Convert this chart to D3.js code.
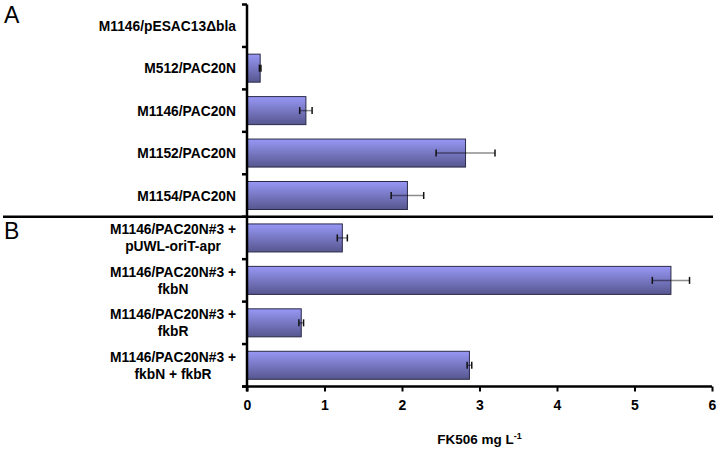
<!DOCTYPE html>
<html>
<head>
<meta charset="utf-8">
<script src="https://cdn.jsdelivr.net/npm/d3@7"></script>
<style>
  body { margin: 0; background: #fff; }
  text { font-family: Arial, "Liberation Sans", sans-serif; }
</style>
</head>
<body>
<svg id="chart" width="719" height="451"></svg>
<script>
const strains = [
  ['M1146/pESAC13\u0394bla'],
  ['M512/PAC20N'],
  ['M1146/PAC20N'],
  ['M1152/PAC20N'],
  ['M1154/PAC20N'],
  ['M1146/PAC20N#3 +', 'pUWL-oriT-apr'],
  ['M1146/PAC20N#3 +', 'fkbN'],
  ['M1146/PAC20N#3 +', 'fkbR'],
  ['M1146/PAC20N#3 +', 'fkbN + fkbR'],
]
const yields = [0, 0.17, 0.76, 2.82, 2.07, 1.23, 5.47, 0.70, 2.87]
const errors = [0, 0.01, 0.08, 0.38, 0.21, 0.065, 0.24, 0.03, 0.03]
const xTicks = [0, 1, 2, 3, 4, 5, 6]
const panels = [{ label: 'A', first: 0 }, { label: 'B', first: 5 }]

const svg = d3.select('#chart')
const plotLeft = 247, plotRight = 712, plotTop = 4.5, plotBottom = 386.5

const x = d3.scaleLinear().domain([0, 6]).range([plotLeft, plotRight])
const y = d3.scaleBand()
  .domain(d3.range(strains.length))
  .range([plotTop, plotBottom])
  .paddingInner(0.34)
  .paddingOuter(0.17)
const step = y.step()

const grad = svg.append('defs').append('linearGradient')
  .attr('id', 'barFill')
  .attr('x1', 0).attr('y1', 0).attr('x2', 0).attr('y2', 1)
grad.append('stop').attr('offset', '0%').attr('stop-color', '#9898f6')
grad.append('stop').attr('offset', '100%').attr('stop-color', '#56568f')

const rows = yields.map((v, i) => ({ i, v, e: errors[i] })).filter(d => d.v > 0)

// bars
svg.selectAll('.bar')
  .data(rows)
  .enter().append('rect')
  .attr('class', 'bar')
  .attr('x', x(0))
  .attr('y', d => y(d.i))
  .attr('width', d => x(d.v) - x(0))
  .attr('height', y.bandwidth())
  .attr('fill', 'url(#barFill)')
  .attr('stroke', '#2a2a48')
  .attr('stroke-width', 1)

// error bars
const err = svg.selectAll('.err')
  .data(rows)
  .enter().append('g')
  .attr('class', 'err')
  .attr('transform', d => `translate(0,${y(d.i) + y.bandwidth() / 2})`)
err.append('line')
  .attr('x1', d => x(d.v - d.e)).attr('x2', d => x(d.v + d.e))
  .attr('stroke', 'rgba(0,0,0,0.45)').attr('stroke-width', 1.5)
err.selectAll('.cap')
  .data(d => [x(d.v - d.e), x(d.v + d.e)])
  .enter().append('line')
  .attr('class', 'cap')
  .attr('x1', d => d).attr('x2', d => d).attr('y1', -3.5).attr('y2', 3.5)
  .attr('stroke', '#111').attr('stroke-width', 1.5)

// y axis line and ticks at band boundaries
svg.append('line')
  .attr('x1', plotLeft).attr('x2', plotLeft).attr('y1', plotTop).attr('y2', plotBottom + 5)
  .attr('stroke', '#000').attr('stroke-width', 2.5)
svg.selectAll('.ytick')
  .data(d3.range(strains.length + 1))
  .enter().append('line')
  .attr('class', 'ytick')
  .attr('x1', plotLeft - 5).attr('x2', plotLeft)
  .attr('y1', i => plotTop + i * step).attr('y2', i => plotTop + i * step)
  .attr('stroke', '#000').attr('stroke-width', 2.5)

// x axis
const xAxis = svg.append('g')
  .attr('transform', `translate(0,${plotBottom})`)
  .call(d3.axisBottom(x).tickValues(xTicks).tickSize(5).tickPadding(9).tickFormat(d3.format('d')))
xAxis.select('.domain').attr('stroke', '#000').attr('stroke-width', 2.5)
  .attr('d', `M${plotLeft - 5},0H${plotRight}`)
xAxis.selectAll('.tick line').attr('stroke', '#000').attr('stroke-width', 2)
xAxis.selectAll('.tick text')
  .attr('font-size', 14).attr('font-weight', 'bold').attr('fill', '#000')
  .attr('font-family', 'Arial, "Liberation Sans", sans-serif')

const title = svg.append('text')
  .attr('x', (plotLeft + plotRight) / 2).attr('y', 444)
  .attr('text-anchor', 'middle')
  .attr('font-size', 13.5).attr('font-weight', 'bold').attr('fill', '#000')
title.append('tspan').text('FK506 mg L')
title.append('tspan').attr('dy', -5).attr('font-size', 9).text('-1')

// category labels
strains.forEach((lines, i) => {
  const cy = y(i) + y.bandwidth() / 2
  const g = svg.append('g')
  const texts = lines.map((line, k) => g.append('text')
    .attr('y', cy + (k - (lines.length - 1) / 2) * 17 + 5)
    .attr('font-size', 13.8).attr('font-weight', 'bold').attr('fill', '#000')
    .attr('text-anchor', 'middle')
    .text(line))
  const w = d3.max(texts, t => t.node().getComputedTextLength())
  texts.forEach(t => t.attr('x', 236 - w / 2))
})

// panel separator and letters
svg.append('line')
  .attr('x1', 3).attr('x2', 713)
  .attr('y1', plotTop + 5 * step).attr('y2', plotTop + 5 * step)
  .attr('stroke', '#000').attr('stroke-width', 2.5)

panels.forEach(p => {
  svg.append('text')
    .attr('x', 4)
    .attr('y', plotTop + p.first * step + (p.first === 0 ? 18.5 : 22.5))
    .attr('font-size', 23).attr('fill', '#000')
    .text(p.label)
})
</script>
</body>
</html>
